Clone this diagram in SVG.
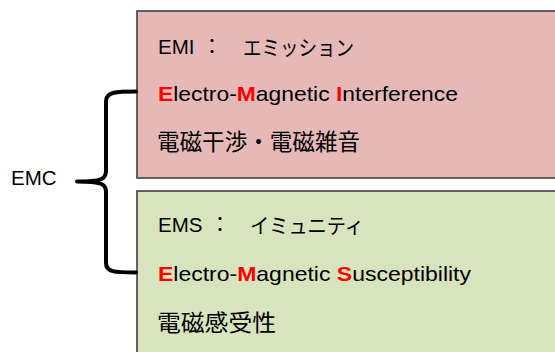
<svg xmlns="http://www.w3.org/2000/svg" width="555" height="352" viewBox="0 0 555 352">
  <style>
    .box { stroke: #404040; stroke-width: 1.6; }
    .en { font-family: "Liberation Sans", Arial, sans-serif; fill: #000; }
    .jp { font-family: "Noto Sans CJK JP", "Liberation Sans", sans-serif; fill: #000; }
    .hl { fill: #FF0000; font-weight: bold; }
    .brace { fill: none; stroke: #000; stroke-width: 4; stroke-linecap: round; stroke-linejoin: round; }
  </style>
  <rect width="555" height="352" fill="#FFFFFF"/>

  <!-- EMC label -->
  <g id="emc">
    <text class="en" x="11" y="185" font-size="20.5">EMC</text>
  </g>

  <!-- emission box -->
  <g id="emi">
    <rect class="box" x="137" y="11" width="430" height="167" fill="#E6B9B8"/>
    <text class="en" x="158" y="54" font-size="20.5">EMI</text>
    <text class="jp" x="202" y="54" font-size="20">：</text>
    <text class="jp" x="243" y="55" font-size="21" textLength="111" lengthAdjust="spacingAndGlyphs">エミッション</text>
    <text class="en" x="158" y="101" font-size="21" textLength="300" lengthAdjust="spacingAndGlyphs"><tspan class="hl">E</tspan>lectro-<tspan class="hl">M</tspan>agnetic <tspan class="hl">I</tspan>nterference</text>
    <text class="jp" x="157" y="150" font-size="23" textLength="203" lengthAdjust="spacingAndGlyphs">電磁干渉・電磁雑音</text>
  </g>

  <!-- immunity box -->
  <g id="ems">
    <rect class="box" x="137" y="191" width="430" height="175" fill="#D7E4BD"/>
    <text class="en" x="158" y="232" font-size="20.5">EMS</text>
    <text class="jp" x="210" y="232" font-size="20">：</text>
    <text class="jp" x="250" y="233" font-size="21" textLength="114" lengthAdjust="spacingAndGlyphs">イミュニティ</text>
    <text class="en" x="158" y="281" font-size="21" textLength="313" lengthAdjust="spacingAndGlyphs"><tspan class="hl">E</tspan>lectro-<tspan class="hl">M</tspan>agnetic <tspan class="hl">S</tspan>usceptibility</text>
    <text class="jp" x="157" y="331" font-size="23" textLength="119" lengthAdjust="spacingAndGlyphs">電磁感受性</text>
  </g>

  <!-- curly brace joining EMC to both boxes -->
  <g id="connectors">
    <path class="brace" d="M136,91.5 C117,91.5 106,91.5 106,101 L106,171 C106,179 102,181.5 77,181.5 C102,181.5 106,184 106,192 L106,263 C106,272 114,272.5 136,272.5"/>
  </g>
</svg>
